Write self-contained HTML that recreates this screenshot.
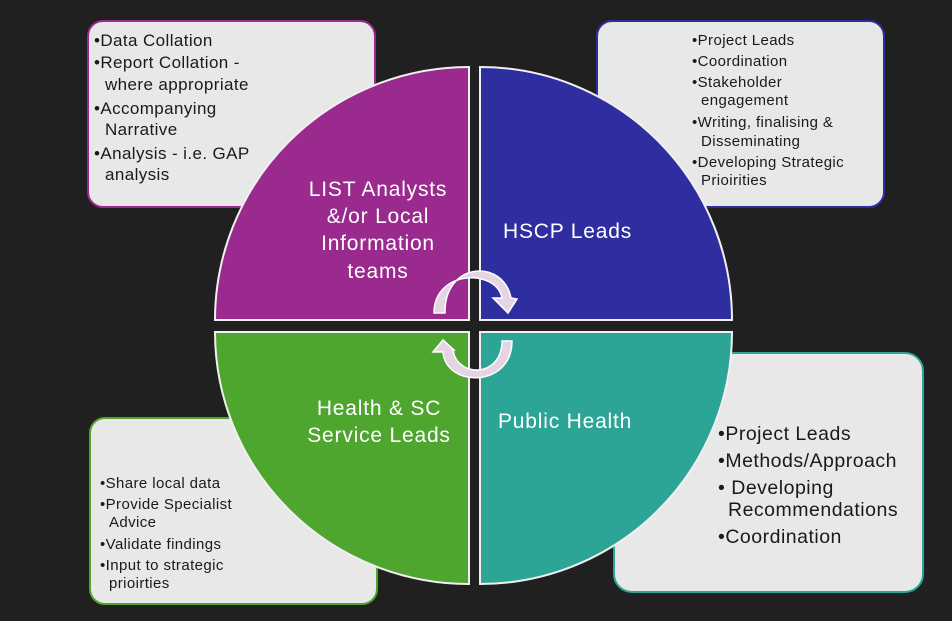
<!DOCTYPE html>
<html><head><meta charset="utf-8"><style>
html,body{margin:0;padding:0;background:#202020;}
svg{display:block}
text{font-family:"Liberation Sans",sans-serif;}
</style></head><body>
<svg width="952" height="621" viewBox="0 0 952 621" xmlns="http://www.w3.org/2000/svg">
<rect width="952" height="621" fill="#202020"/>
<rect x="88" y="21" width="287" height="186" rx="15" fill="#e8e8e8" stroke="#9b2a8e" stroke-width="2"/>
<rect x="597" y="21" width="287" height="186" rx="15" fill="#e8e8e8" stroke="#2e2ea0" stroke-width="2"/>
<rect x="90" y="418" width="287" height="186" rx="15" fill="#e8e8e8" stroke="#4ea62f" stroke-width="2"/>
<rect x="614" y="353" width="309" height="239" rx="18" fill="#e8e8e8" stroke="#2ca596" stroke-width="2"/>
<path d="M469,320 L215,320 A254,253 0 0 1 469,67 Z" fill="#9b2a8e" stroke="#f0f0f0" stroke-width="2"/>
<path d="M480,320 L480,67 A252,253 0 0 1 732,320 Z" fill="#2e2ea0" stroke="#f0f0f0" stroke-width="2"/>
<path d="M469,332 L469,584 A254,252 0 0 1 215,332 Z" fill="#4ea62f" stroke="#f0f0f0" stroke-width="2"/>
<path d="M480,332 L732,332 A252,252 0 0 1 480,584 Z" fill="#2ca596" stroke="#f0f0f0" stroke-width="2"/>
<g fill="#e4d4e4" stroke="#ffffff" stroke-width="1.5">
<path d="M434,313 C434,270 496,268 502,298 L493,298 L508,313 L517,299 L511,298 C503,258 444,262 445,313 Z"/>
<path d="M512,341 C512,388 446,388 443,352 L433,352 L443,340 L454,350 L453,350 C457,378 502,378 502,341 Z"/>
</g>
<g fill="#ffffff" font-size="21" letter-spacing="0.8" text-anchor="middle">
<text x="378" y="196">LIST Analysts</text>
<text x="378" y="223">&amp;/or Local</text>
<text x="378" y="250">Information</text>
<text x="378" y="278">teams</text>
<text x="379" y="415">Health &amp; SC</text>
<text x="379" y="442">Service Leads</text>
</g>
<g fill="#ffffff" font-size="21" letter-spacing="0.8">
<text x="503" y="238">HSCP Leads</text>
<text x="498" y="428">Public Health</text>
</g>
<g fill="#1a1a1a" font-size="17" letter-spacing="0.4">
<text x="94" y="46">•Data Collation</text>
<text x="94" y="68">•Report Collation -</text>
<text x="105" y="90">where appropriate</text>
<text x="94" y="114">•Accompanying</text>
<text x="105" y="135">Narrative</text>
<text x="94" y="159">•Analysis - i.e. GAP</text>
<text x="105" y="180">analysis</text>
</g>
<g fill="#1a1a1a" font-size="15" letter-spacing="0.4">
<text x="692" y="45">•Project Leads</text>
<text x="692" y="66">•Coordination</text>
<text x="692" y="87">•Stakeholder</text>
<text x="701" y="105">engagement</text>
<text x="692" y="127">•Writing, finalising &amp;</text>
<text x="701" y="146">Disseminating</text>
<text x="692" y="167">•Developing Strategic</text>
<text x="701" y="185">Prioirities</text>
<text x="100" y="488">•Share local data</text>
<text x="100" y="509">•Provide Specialist</text>
<text x="109" y="527">Advice</text>
<text x="100" y="549">•Validate findings</text>
<text x="100" y="570">•Input to strategic</text>
<text x="109" y="588">prioirties</text>
</g>
<g fill="#1a1a1a" font-size="19.5" letter-spacing="0.5">
<text x="718" y="440">•Project Leads</text>
<text x="718" y="467">•Methods/Approach</text>
<text x="718" y="494">• Developing</text>
<text x="728" y="516">Recommendations</text>
<text x="718" y="543">•Coordination</text>
</g>
</svg>
</body></html>
